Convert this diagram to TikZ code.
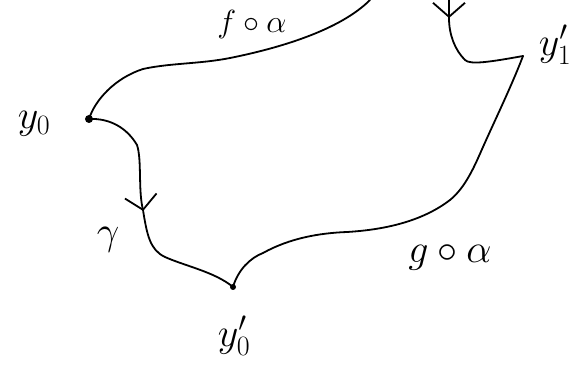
\RequirePackage{fix-cm}
\documentclass[tikz,border=0pt]{standalone}
\usetikzlibrary{arrows.meta,decorations.markings}
\begin{document}
\begin{tikzpicture}[x=1pt,y=-1pt,
  stroke/.style={line width=1.8pt,line cap=round,line join=round},
  dotmark/.style={circle,fill,inner sep=0pt,minimum size=8pt},
  lbl/.style={font=\fontsize{40}{44}\selectfont},
  barb/.style={postaction={decorate},decoration={markings,
     mark=at position #1 with {\arrow[line width=1.8pt]{Straight Barb[length=14pt,width=32pt]}}}}]
\useasboundingbox (0,0) rectangle (584,366);
\node[dotmark] (y0) at (89,119) {};
\node[dotmark,minimum size=6pt] (y0p) at (233,287) {};
\coordinate (y1p) at (523,56);
\coordinate (topA) at (370,0);
\coordinate (topB) at (449,0);
% labels
\node[lbl] (ly0) at (34,124) {$y_0$};
\node[lbl] (ly0p) at (234,336) {$y_0'$};
\node[lbl] (ly1p) at (555,45) {$y_1'$};
\node[lbl] (lgam) at (108,240) {$\gamma$};
\node[lbl] (lgoa) at (450,258) {$g\circ\alpha$};
\node[lbl,anchor=north,font=\fontsize{32}{36}\selectfont] (lfoa) at (252,7) {$f\circ\alpha$};
% curves
\draw[stroke] (y0.center) .. controls (95,100) and (115,78) .. (143,69)
  .. controls (170,63) and (200,64) .. (230,58)
  .. controls (280,48) and (340,30) .. (topA);
\draw[stroke,barb=124pt] (y0.center) .. controls (110,118) and (127,128) .. (137,145)
  .. controls (142,160) and (138,190) .. (143,210)
  .. controls (147,235) and (150,250) .. (165,257)
  .. controls (185,266) and (215,272) .. (y0p.center);
\draw[stroke] (y0p.center) .. controls (238,270) and (250,258) .. (263,253)
  .. controls (290,238) and (320,233) .. (347,232)
  .. controls (380,230) and (420,223) .. (450,200)
  .. controls (466,187) and (475,165) .. (483,147)
  .. controls (495,120) and (512,85) .. (y1p);
\draw[stroke,barb=18pt] (topB) -- (449,18) .. controls (449,35) and (455,50) .. (465,60)
  .. controls (470,65) and (490,62) .. (y1p);
\end{tikzpicture}
\end{document}
